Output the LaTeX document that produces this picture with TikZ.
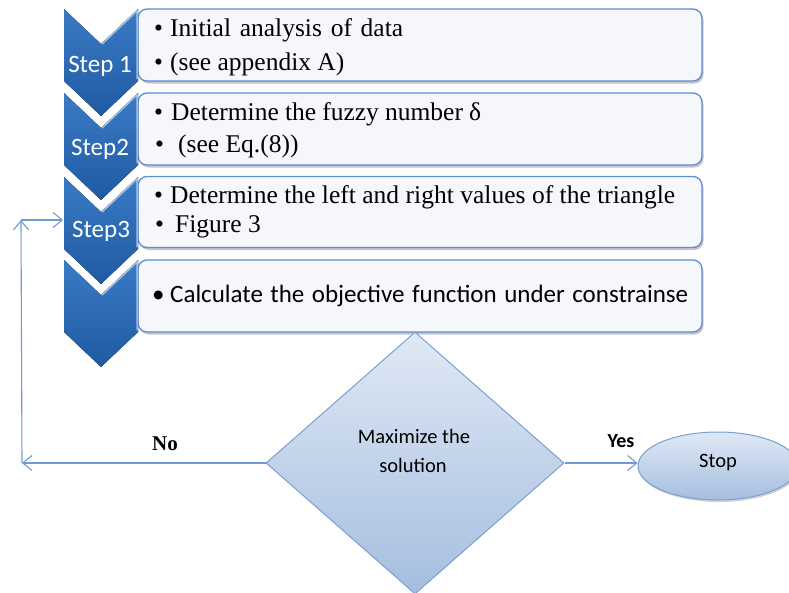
\documentclass[tikz,border=0pt]{standalone}
\usepackage{fontspec}
\setmainfont{Liberation Serif}
\newfontfamily\calib{Carlito}
\usetikzlibrary{shapes.geometric,arrows.meta,shadows}
\definecolor{chevtop}{HTML}{3A7BC5}
\definecolor{chevbot}{HTML}{1F5AA2}
\definecolor{boxline}{HTML}{5B8DD6}
\definecolor{boxfill}{HTML}{F5F7FA}
\definecolor{conncol}{HTML}{6F9AD6}
\definecolor{dmtop}{HTML}{DFE9F5}
\definecolor{dmbot}{HTML}{A5BEDF}
\definecolor{dmline}{HTML}{7B9FD0}
\tikzset{
  stepbox/.style={draw=boxline, line width=1.3pt, fill=boxfill, rounded corners=9pt,
    minimum width=564pt, minimum height=72pt, inner sep=0pt,
    drop shadow={shadow xshift=1.5pt, shadow yshift=-2.5pt, opacity=.45, fill=gray}},
  chevfill/.style={top color=chevtop, bottom color=chevbot},
  serifline/.style={anchor=base west, inner sep=0pt, font=\fontsize{25.5}{30}\selectfont},
  bulletnode/.style={anchor=base west, inner sep=0pt, font=\fontsize{25.5}{30}\selectfont},
  steplabel/.style={anchor=base, inner sep=0pt, text=white, font=\calib\fontsize{25}{28}\selectfont},
  conn/.style={draw=conncol, line width=1.1pt, -{Straight Barb[length=9pt,width=15pt,line width=1.1pt]}},
}
\begin{document}
\begin{tikzpicture}[x=1pt,y=-1pt]
\useasboundingbox (0,0) rectangle (789,592);

% boxes
\node[stepbox] (b1) at (420,45) {};
\node[stepbox] (b2) at (420,129) {};
\node[stepbox, minimum height=71pt] (b3) at (420,212) {};
\node[stepbox] (b4) at (420,296) {};

% chevrons
\foreach \t in {9,93,177,260} {
  \fill[chevfill] (64,\t) -- (101,{\t+35}) -- (138,\t) -- (138,{\t+72}) -- (101,{\t+107}) -- (64,{\t+72}) -- cycle;
  \draw[white, opacity=.55, line width=1.5pt] (102,{\t+35}) -- (137,{\t+2}) -- (137,{\t+70});
}

% step labels
\node[steplabel] (s1) at (100,72) {Step 1};
\node[steplabel] (s2) at (100,155) {Step2};
\node[steplabel] (s3) at (101,237) {Step3};

% box texts
\node[bulletnode] (p1a) at (154,36) {•};
\node[serifline] (t1a) at (170,36) {\makebox[233pt][s]{Initial analysis of data}};
\node[bulletnode] (p1b) at (154,70) {•};
\node[serifline] (t1b) at (170,70) {(see appendix A)};
\node[bulletnode] (p2a) at (154,120) {•};
\node[serifline] (t2a) at (171,120) {\makebox[310pt][s]{Determine the fuzzy number δ}};
\node[bulletnode] (p2b) at (155,152) {•};
\node[serifline] (t2b) at (178,152) {(see Eq.(8))};
\node[bulletnode] (p3a) at (154,203) {•};
\node[serifline] (t3a) at (170,203) {\makebox[505pt][s]{Determine the left and right values of the triangle}};
\node[bulletnode] (p3b) at (155,232) {•};
\node[serifline] (t3b) at (175,232) {Figure 3};
\node[anchor=base west, inner sep=0pt, font=\calib\fontsize{25}{28}\selectfont] (p4a) at (152,302) {•};
\node[anchor=base west, inner sep=0pt, font=\calib\fontsize{25}{28}\selectfont] (t4a) at (170,302) {\makebox[518pt][s]{Calculate the objective function under constrainse}};

% decision
\node[diamond, draw=dmline, line width=1pt, top color=dmtop, bottom color=dmbot,
      minimum width=298pt, minimum height=262pt, inner sep=0pt] (dm) at (415,463) {};
\node[anchor=base, inner sep=0pt, font=\calib\fontsize{20.5}{24}\selectfont] (dm1) at (414,443) {Maximize the};
\node[anchor=base, inner sep=0pt, font=\calib\fontsize{20.5}{24}\selectfont] (dm2) at (413,472) {solution};

% stop
\node[ellipse, draw=dmline, line width=1pt, top color=dmtop, bottom color=dmbot,
      minimum width=160pt, minimum height=68pt, inner sep=0pt,
      drop shadow={shadow xshift=1pt, shadow yshift=-2pt, opacity=.35, fill=gray}] (stop) at (718,466) {};
\node[anchor=base, inner sep=0pt, font=\calib\fontsize{20.5}{24}\selectfont] (stoptxt) at (718,467) {Stop};

% connectors
\coordinate (nl) at (22,463);
\coordinate (nt) at (21,220);
\coordinate (s3in) at (63,220);
\draw[conn] (dm.west) -- (nl);
\draw[conn] (nl) -- (nt);
\draw[conn] (nt) -- (s3in);
\draw[conn] (dm.east) -- (dm.east -| stop.west);

% labels
\node[anchor=base, inner sep=0pt, font=\bfseries\fontsize{21}{24}\selectfont] (no) at (165,450) {No};
\node[anchor=base, inner sep=0pt, font=\calib\bfseries\fontsize{20}{24}\selectfont] (yes) at (621,447) {Yes};
\end{tikzpicture}
\end{document}
